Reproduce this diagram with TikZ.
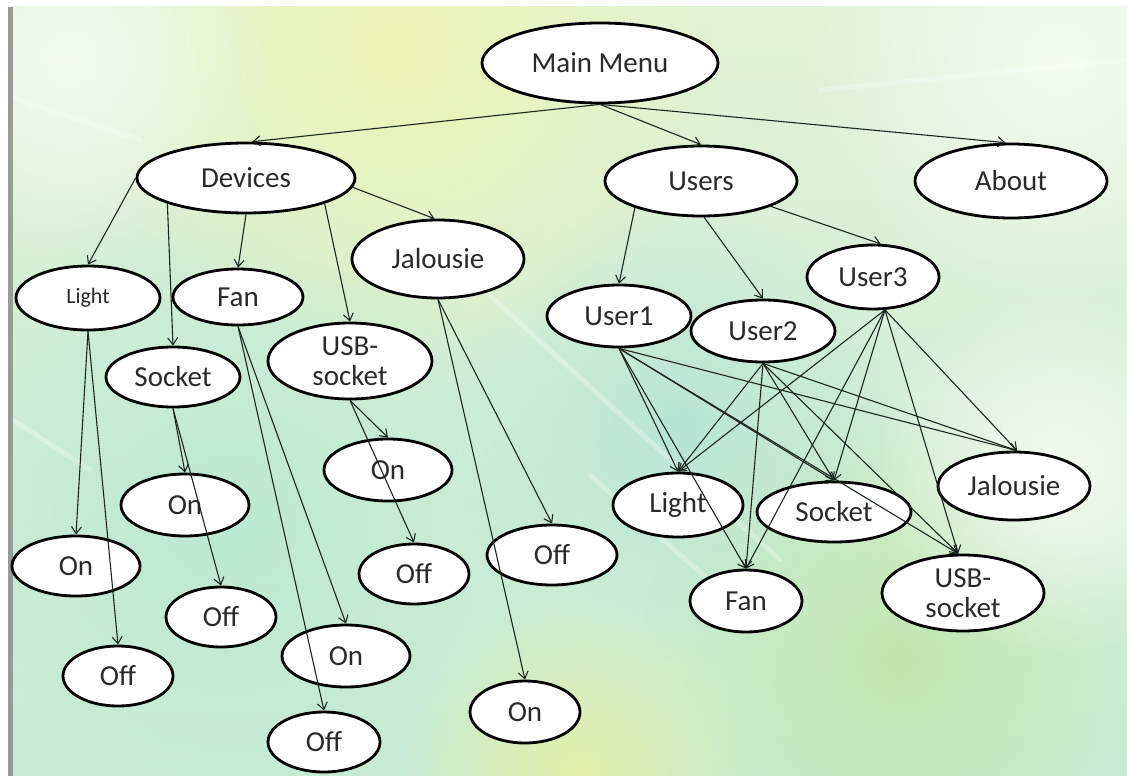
\documentclass[tikz,border=0pt]{standalone}
\usepackage{fontspec}
\setmainfont{Carlito}
\usetikzlibrary{shapes.geometric,arrows.meta,fadings}

\definecolor{textgray}{HTML}{2A2A2A}
\definecolor{linkcol}{HTML}{1A271F}
\definecolor{edgegray}{HTML}{9A9A9A}
\definecolor{bgtop}{HTML}{E2F2D6}
\definecolor{bgbot}{HTML}{C8ECD6}
\definecolor{glowyellow}{HTML}{EEF5B6}
\definecolor{glowlow}{HTML}{E4EFA8}
\definecolor{glowwhite}{HTML}{F5FBF2}
\definecolor{glowgreen}{HTML}{C4E7B0}
\definecolor{glowmint}{HTML}{BCE9D4}
\definecolor{glowaqua}{HTML}{B8E5D7}

\tikzfading[name=softglow, inner color=transparent!0, outer color=transparent!100]

\tikzset{
  menu/.style={ellipse, draw=black, line width=2.8pt, fill=white, inner sep=0pt,
               font=\fontsize{29}{30}\selectfont, text=textgray, align=center},
  small/.style={font=\fontsize{22}{24}\selectfont},
  link/.style={draw=linkcol, line width=1.1pt, -{Straight Barb[length=7pt,width=10pt]}},
  glow/.style={fill=#1, path fading=softglow},
  streak/.style={draw=white, line width=5pt, draw opacity=0.28, line cap=round}
}

\begin{document}
\begin{tikzpicture}[x=1pt, y=-1pt]
\useasboundingbox (0,0) rectangle (1127,776);
\fill[white] (0,0) rectangle (1127,776);

% backdrop
\shade[top color=bgtop, bottom color=bgbot] (13,7) rectangle (1127,776);
\begin{scope}
  \clip (13,7) rectangle (1127,776);
  \fill[glow=glowmint] (230,520) circle[radius=340pt];
  \fill[glow=glowaqua] (680,430) circle[radius=230pt];
  \fill[glow=glowgreen] (900,660) circle[radius=260pt];
  \fill[glow=glowyellow] (400,50) circle[radius=320pt];
  \fill[glow=glowwhite] (70,60) circle[radius=200pt];
  \fill[glow=glowwhite] (1060,470) circle[radius=190pt];
  \fill[glow=glowwhite] (1060,60) circle[radius=260pt];
  \fill[glow=glowlow] (580,776) circle[radius=180pt];
  \draw[streak] (13,98) -- (140,140);
  \draw[streak] (440,250) -- (780,560);
  \draw[streak] (590,475) -- (720,590);
  \draw[streak] (820,90) -- (1127,60);
  \draw[streak] (13,420) -- (90,470);
\end{scope}
\fill[edgegray] (8,7) rectangle (13,776);

% menu tree
\node[menu, minimum width=236, minimum height=80] (mm) at (600,63) {Main Menu};
\node[menu, minimum width=218, minimum height=70] (dev) at (246,178) {Devices};
\node[menu, minimum width=192, minimum height=70] (usr) at (701,181) {Users};
\node[menu, minimum width=192, minimum height=74] (abt) at (1011,181) {About};

% devices branch
\node[menu, small, minimum width=144, minimum height=64] (lgtL) at (88,298) {Light};
\node[menu, minimum width=130, minimum height=56] (fanL) at (238,297) {Fan};
\node[menu, minimum width=134, minimum height=60] (sckL) at (173,377) {Socket};
\node[menu, minimum width=164, minimum height=76] (usbL) at (350,361) {USB-\\socket};
\node[menu, minimum width=172, minimum height=78] (jalL) at (438,259) {Jalousie};

\node[menu, minimum width=128, minimum height=60] (lgtOn) at (76,566) {On};
\node[menu, minimum width=110, minimum height=60] (lgtOff) at (118,676) {Off};
\node[menu, minimum width=128, minimum height=62] (sckOn) at (185,505) {On};
\node[menu, minimum width=110, minimum height=60] (sckOff) at (221,617) {Off};
\node[menu, minimum width=128, minimum height=62] (fanOn) at (346,656) {On};
\node[menu, minimum width=112, minimum height=60] (fanOff) at (324,742) {Off};
\node[menu, minimum width=128, minimum height=62] (usbOn) at (388,470) {On};
\node[menu, minimum width=110, minimum height=60] (usbOff) at (414,574) {Off};
\node[menu, minimum width=130, minimum height=60] (jalOff) at (552,555) {Off};
\node[menu, minimum width=110, minimum height=62] (jalOn) at (525,712) {On};

% users branch
\node[menu, minimum width=144, minimum height=62] (u1) at (619,316) {User1};
\node[menu, minimum width=144, minimum height=62] (u2) at (763,331) {User2};
\node[menu, minimum width=132, minimum height=64] (u3) at (873,277) {User3};

\node[menu, minimum width=130, minimum height=64] (lgtR) at (678,505) {Light};
\node[menu, minimum width=154, minimum height=60] (sckR) at (834,512) {Socket};
\node[menu, minimum width=152, minimum height=68] (jalR) at (1014,486) {Jalousie};
\node[menu, minimum width=112, minimum height=62] (fanR) at (746,601) {Fan};
\node[menu, minimum width=162, minimum height=76] (usbR) at (963,593) {USB-\\socket};

% connectors from the main menu
\draw[link] (mm.south) -- (dev.80);
\draw[link] (mm.south) -- (usr.north);
\draw[link] (mm.south) -- (abt.98);

% devices
\draw[link] (dev.west) -- (lgtL.north);
\draw[link] (dev.198) -- (sckL.north);
\draw[link] (dev.south) -- (fanL.north);
\draw[link] (dev.342) -- (usbL.north);
\draw[link] (dev.355) -- (jalL.95);

\draw[link] (lgtL.south) -- (lgtOn.north);
\draw[link] (lgtL.south) -- (lgtOff.north);
\draw[link] (sckL.south) -- (sckOn.north);
\draw[link] (sckL.south) -- (sckOff.north);
\draw[link] (fanL.south) -- (fanOn.north);
\draw[link] (fanL.south) -- (fanOff.north);
\draw[link] (usbL.south) -- (usbOn.north);
\draw[link] (usbL.south) -- (usbOff.north);
\draw[link] (jalL.south) -- (jalOff.north);
\draw[link] (jalL.south) -- (jalOn.north);

% users
\draw[link] (usr.202) -- (u1.north);
\draw[link] (usr.275) -- (u2.north);
\draw[link] (usr.340) -- (u3.77);

\foreach \u/\src in {u1/south, u2/south, u3/290} {
  \draw[link] (\u.\src) -- (lgtR.north);
  \draw[link] (\u.\src) -- (sckR.north);
  \draw[link] (\u.\src) -- (jalR.85);
  \draw[link] (\u.\src) -- (fanR.north);
  \draw[link] (\u.\src) -- (usbR.97);
}
\end{tikzpicture}
\end{document}
